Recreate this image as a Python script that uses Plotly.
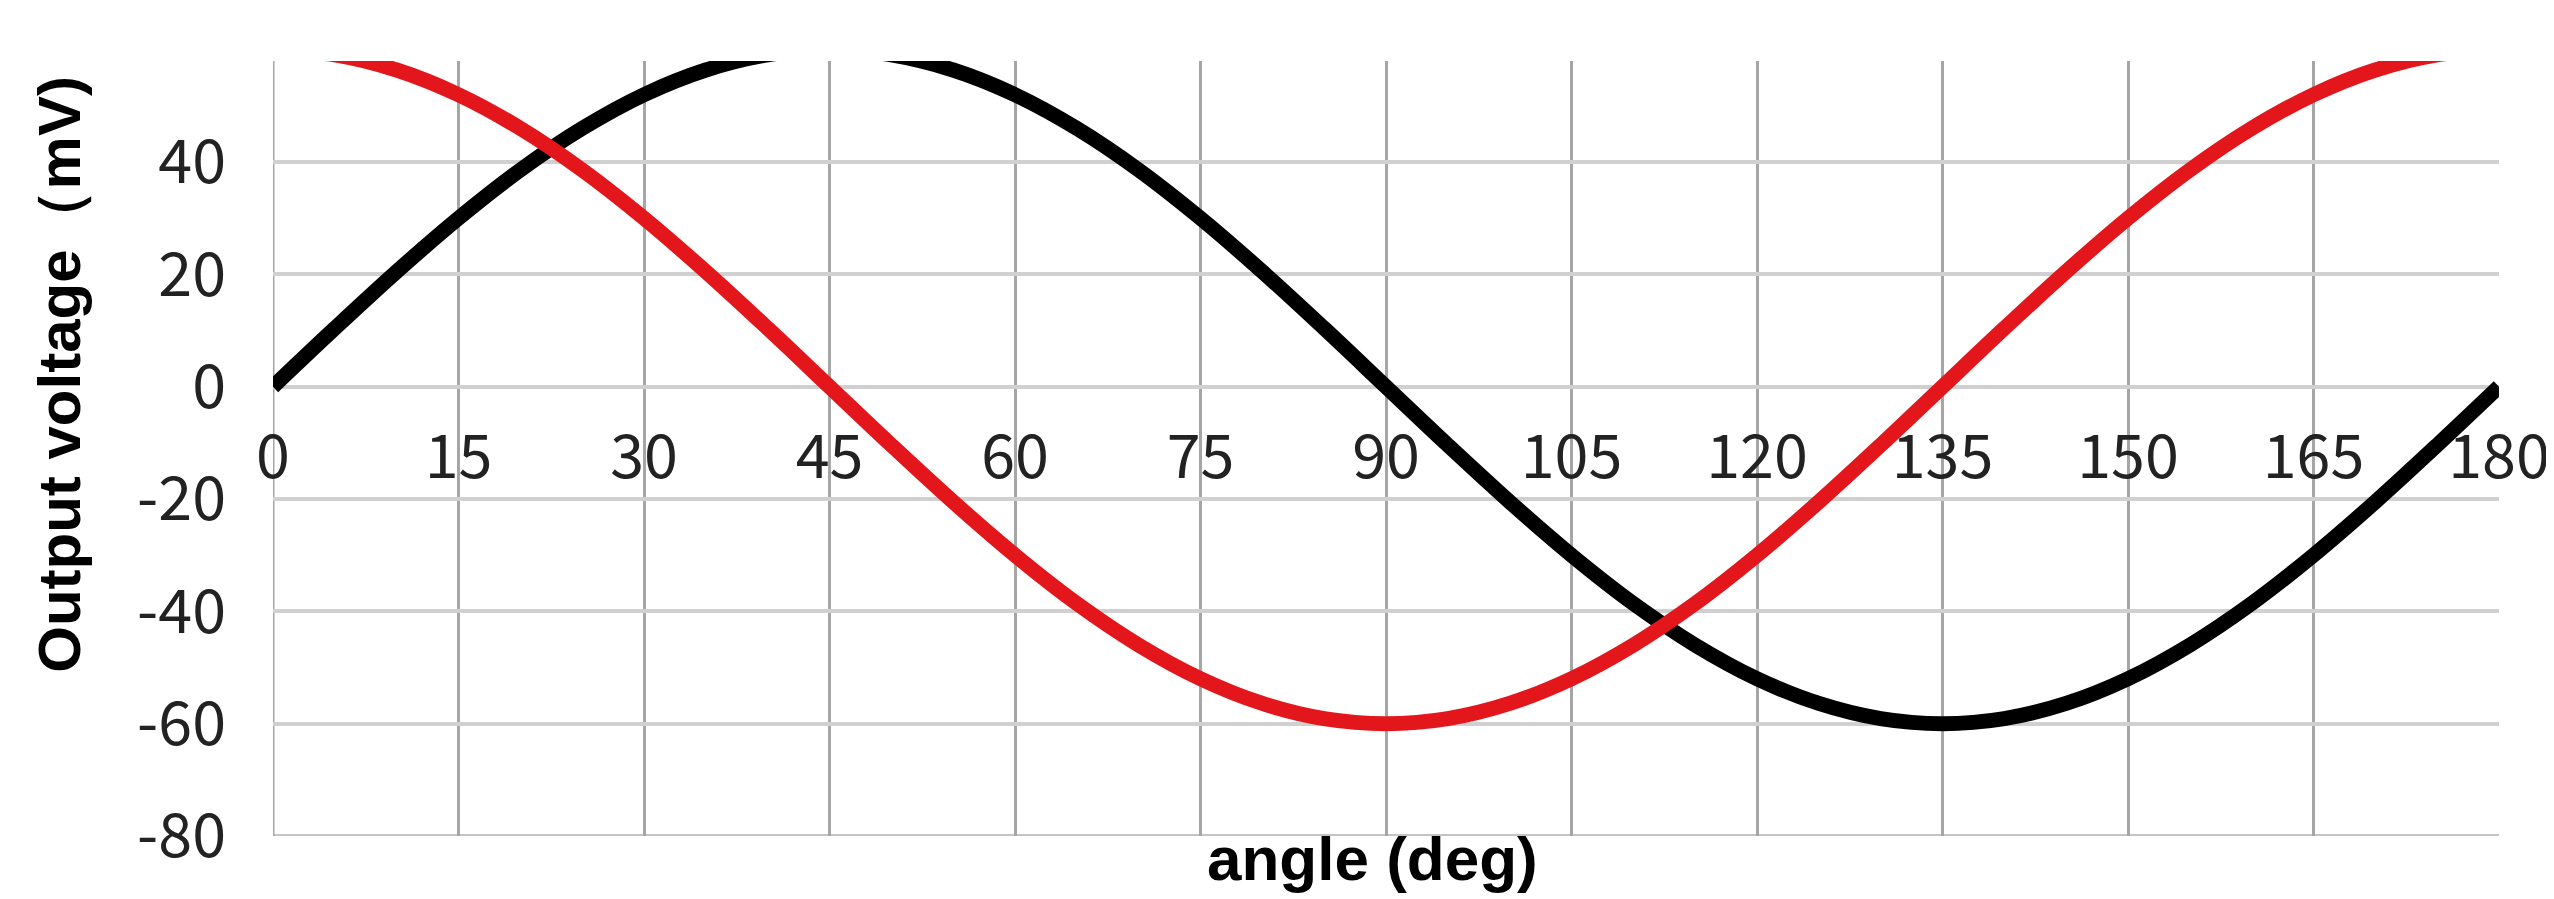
import plotly.graph_objects as go

# angle (deg), sampled every 5 degrees
angle = [0, 5, 10, 15, 20, 25, 30, 35, 40, 45, 50, 55, 60, 65, 70, 75, 80, 85, 90,
         95, 100, 105, 110, 115, 120, 125, 130, 135, 140, 145, 150, 155, 160, 165, 170, 175, 180]

# black curve (mV)
black_mv = [0, 10.4, 20.5, 30.0, 38.6, 46.0, 52.0, 56.4, 59.1, 60.0, 59.1, 56.4, 52.0, 46.0, 38.6, 30.0, 20.5, 10.4, 0,
            -10.4, -20.5, -30.0, -38.6, -46.0, -52.0, -56.4, -59.1, -60.0, -59.1, -56.4, -52.0, -46.0, -38.6, -30.0, -20.5, -10.4, 0]

# red curve (mV)
red_mv = [60.0, 59.1, 56.4, 52.0, 46.0, 38.6, 30.0, 20.5, 10.4, 0, -10.4, -20.5, -30.0, -38.6, -46.0, -52.0, -56.4, -59.1, -60.0,
          -59.1, -56.4, -52.0, -46.0, -38.6, -30.0, -20.5, -10.4, 0, 10.4, 20.5, 30.0, 38.6, 46.0, 52.0, 56.4, 59.1, 60.0]

x_ticks = [0, 15, 30, 45, 60, 75, 90, 105, 120, 135, 150, 165, 180]
y_ticks = [-80, -60, -40, -20, 0, 20, 40]

Y_MIN, Y_MAX = -80, 58
X_MIN, X_MAX = 0, 180

fig = go.Figure()
fig.add_trace(go.Scatter(x=angle, y=black_mv, mode="lines", line=dict(color="#000000", width=15, shape="spline"),
                         showlegend=False))
fig.add_trace(go.Scatter(x=angle, y=red_mv, mode="lines", line=dict(color="#E3161C", width=15, shape="spline"),
                         showlegend=False))

tick_font = dict(family="Noto Sans CJK SC", size=61, color="#222222")
title_font = dict(family="Liberation Sans", size=60, color="#000000", weight="bold")
xtitle_font = dict(family="Liberation Sans", size=62, color="#000000", weight="bold")

fig.update_layout(
    width=2554, height=899,
    margin=dict(l=265, r=55, t=53, b=71),
    paper_bgcolor="white", plot_bgcolor="white",
    xaxis=dict(range=[X_MIN, X_MAX], tickvals=x_ticks, ticktext=[str(v) for v in x_ticks],
               showgrid=True, gridcolor="#A6A6A6", gridwidth=3, zeroline=False, showline=False,
               anchor="free", position=(0 - Y_MIN) / (Y_MAX - Y_MIN),
               tickfont=tick_font, ticks="", ticklabelstandoff=29),
    yaxis=dict(range=[Y_MIN, Y_MAX], tickvals=y_ticks, ticktext=[str(v) for v in y_ticks],
               showgrid=True, gridcolor="#D0D0D0", gridwidth=4, zeroline=False, showline=False,
               tickfont=tick_font, ticks="", ticklabelstandoff=46),
)

# plot-area edges drawn as grid-coloured lines (bottom at -80, left at 0)
fig.add_shape(type="line", xref="x", yref="y", x0=X_MIN, x1=X_MAX, y0=Y_MIN, y1=Y_MIN,
              line=dict(color="#C4C4C4", width=4), layer="below")
fig.add_shape(type="line", xref="x", yref="y", x0=X_MIN, x1=X_MIN, y0=Y_MIN, y1=Y_MAX,
              line=dict(color="#A6A6A6", width=3), layer="below")

fig.add_annotation(text="angle (deg)", xref="paper", yref="paper", x=0.494, y=0.018,
                   xanchor="center", yanchor="top", showarrow=False, font=xtitle_font)
fig.add_annotation(text="Output voltage（mV)", xref="paper", yref="paper", x=(50 - 265) / 2234, y=(828 - 366) / 775,
                   xanchor="center", yanchor="middle", textangle=-90, showarrow=False, font=title_font)

fig.write_html("out.html")
